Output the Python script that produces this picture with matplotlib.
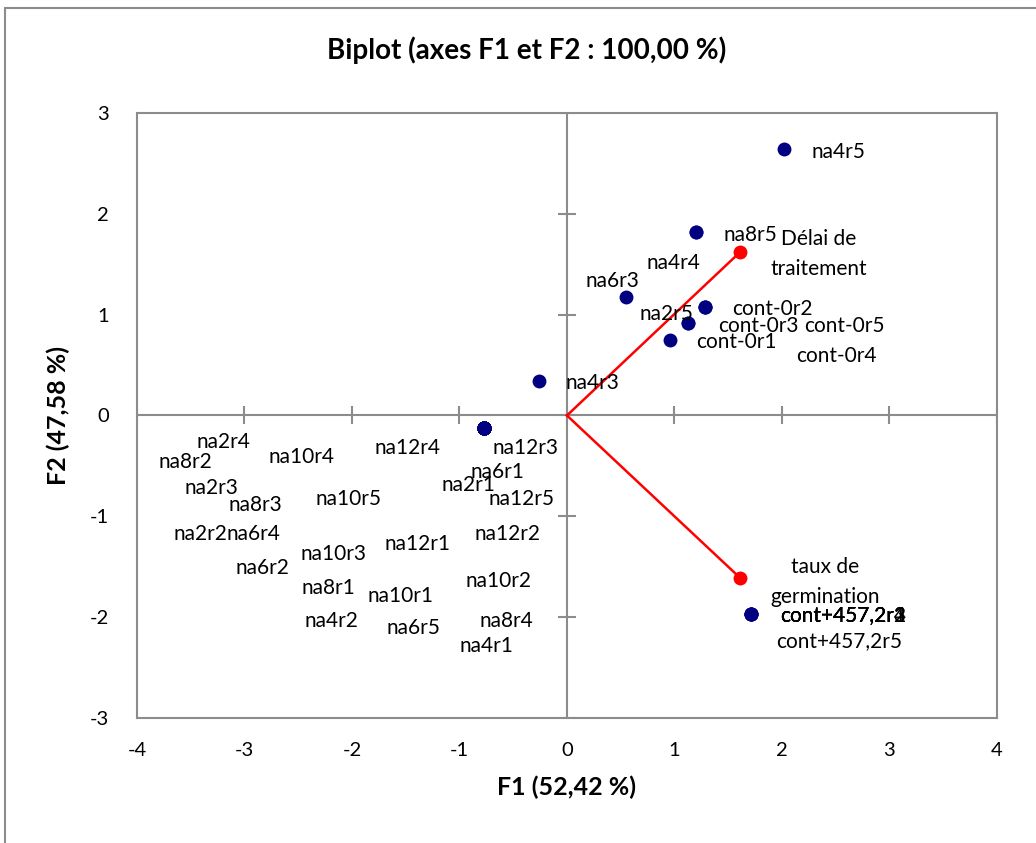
import matplotlib.pyplot as plt
from matplotlib.patches import Rectangle

# observations (F1, F2) -- many share the same coordinates
obs_names = ["na4r5", "na8r5", "na4r4", "na6r3", "cont-0r2", "na2r5", "cont-0r3",
             "cont-0r5", "cont-0r1", "cont-0r4", "na4r3",
             "na2r4", "na8r2", "na10r4", "na12r4", "na12r3", "na6r1", "na2r1", "na12r5",
             "na2r3", "na8r3", "na10r5", "na2r2", "na6r4", "na12r2", "na12r1", "na10r3",
             "na6r2", "na10r2", "na8r1", "na10r1", "na4r2", "na6r5", "na8r4", "na4r1",
             "cont+457,2r1", "cont+457,2r2", "cont+457,2r3", "cont+457,2r4", "cont+457,2r5"]
obs_x = [2.02, 1.20, 1.20, 0.55, 1.28, 1.13, 1.13, 1.28, 0.96, 1.28, -0.26] + [-0.77] * 24 + [1.71] * 5
obs_y = [2.64, 1.82, 1.82, 1.17, 1.08, 0.92, 0.92, 1.08, 0.75, 1.08, 0.34] + [-0.12] * 24 + [-1.97] * 5

# where the labels ended up (data units)
lab_x = [2.53, 1.71, 0.99, 0.42, 1.91, 0.93, 1.78, 2.58, 1.58, 2.51, 0.24,
         -3.20, -3.55, -2.47, -1.48, -0.39, -0.65, -0.92, -0.42,
         -3.31, -2.90, -2.03, -3.41, -2.92, -0.55, -1.39, -2.17,
         -2.83, -0.64, -2.22, -1.55, -2.19, -1.43, -0.56, -0.75,
         2.57, 2.57, 2.57, 2.57, 2.53]
lab_y = [2.61, 1.79, 1.51, 1.33, 1.06, 1.01, 0.89, 0.89, 0.73, 0.59, 0.32,
         -0.26, -0.46, -0.41, -0.32, -0.32, -0.56, -0.69, -0.83,
         -0.72, -0.89, -0.83, -1.18, -1.18, -1.18, -1.27, -1.37,
         -1.51, -1.64, -1.71, -1.79, -2.04, -2.11, -2.04, -2.29,
         -1.98, -1.98, -1.98, -1.98, -2.24]

# variables (arrow end points)
var_names = ["Délai de\ntraitement", "taux de\ngermination"]
var_x = [1.61, 1.61]
var_y = [1.62, -1.61]
var_lab_x = [2.34, 2.40]
var_lab_y = [1.60, -1.65]

ticks_x = [-4, -3, -2, -1, 0, 1, 2, 3, 4]
ticks_y = [-3, -2, -1, 0, 1, 2, 3]

FONT = ["Lato", "DejaVu Sans"]
plt.rcParams["font.family"] = FONT
plt.rcParams["axes.unicode_minus"] = False

fig = plt.figure(figsize=(10.36, 8.43), dpi=100)
ax = fig.add_axes([0.1322, 0.1483, 0.8301, 0.7177])

grey = "#8c8c8c"
ax.set_xlim(-4, 4)
ax.set_ylim(-3, 3)
ax.set_xticks(ticks_x)
ax.set_yticks(ticks_y)
ax.tick_params(length=0, labelsize=14.5)
ax.tick_params(axis="x", pad=17)
ax.tick_params(axis="y", pad=20)
for s in ax.spines.values():
    s.set_color(grey)
    s.set_linewidth(1.5)

# central axes with cross ticks
ax.axhline(0, color=grey, lw=1.5, zorder=1)
ax.axvline(0, color=grey, lw=1.5, zorder=1)
ax.plot(ticks_x, [0] * len(ticks_x), ls="none", marker="|", ms=13, mew=1.5, color=grey, zorder=1)
ax.plot([0] * len(ticks_y), ticks_y, ls="none", marker="_", ms=13, mew=1.5, color=grey, zorder=1)

# observations
ax.scatter(obs_x, obs_y, s=100, color="#000080", zorder=3, linewidths=0)
for name, lx, ly in zip(obs_names, lab_x, lab_y):
    ax.text(lx, ly, name, ha="center", va="center", fontsize=15, color="black", zorder=4)

# variable vectors
for vx, vy, name, tx, ty in zip(var_x, var_y, var_names, var_lab_x, var_lab_y):
    ax.plot([0, vx], [0, vy], color="red", lw=1.8, zorder=2)
    ax.scatter([vx], [vy], s=100, color="red", zorder=3, linewidths=0)
    ax.text(tx, ty, name, ha="center", va="center", fontsize=15, linespacing=1.6, zorder=4)

ax.set_xlabel("F1 (52,42 %)", fontsize=18, fontweight="bold", labelpad=12)
ax.set_ylabel("F2 (47,58 %)", fontsize=18, fontweight="bold", labelpad=14)
fig.text(0.508, 0.940, "Biplot (axes F1 et F2 : 100,00 %)", ha="center", va="center",
         fontsize=20, fontweight="bold")

# outer chart border (right and bottom edges fall outside the picture)
fig.patches.append(Rectangle((0.0045, -0.1), 1.2, 1.0905, transform=fig.transFigure,
                             fill=False, edgecolor=grey, lw=1.5))

fig.savefig("out.png", dpi=100)
